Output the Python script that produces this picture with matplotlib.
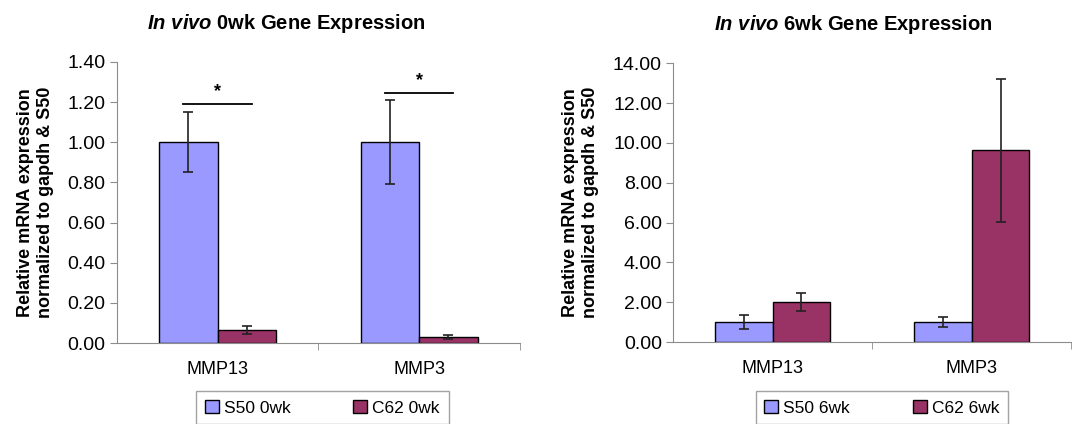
import numpy as np
import matplotlib
matplotlib.use("Agg")
from matplotlib import pyplot as plt

plt.rcParams["font.family"] = ["Liberation Sans", "DejaVu Sans"]
plt.rcParams["mathtext.fontset"] = "custom"
plt.rcParams["mathtext.it"] = "Liberation Sans:italic:bold"
plt.rcParams["mathtext.rm"] = "Liberation Sans:bold"

genes = ["MMP13", "MMP3"]

# 0wk panel
s50_0wk = [1.00, 1.00]
s50_0wk_err = [0.15, 0.21]
c62_0wk = [0.065, 0.03]
c62_0wk_err = [0.022, 0.01]
sig_0wk_y = [1.19, 1.245]

# 6wk panel
s50_6wk = [1.00, 1.00]
s50_6wk_err = [0.35, 0.25]
c62_6wk = [2.03, 9.62]
c62_6wk_err = [0.46, 3.57]

y_ticks_0wk = [0.0, 0.2, 0.4, 0.6, 0.8, 1.0, 1.2, 1.4]
y_ticks_6wk = [0, 2, 4, 6, 8, 10, 12, 14]

blue = "#9999FF"
plum = "#993366"
grey = "#8c8c8c"
ylabel = "Relative mRNA expression\nnormalized to gapdh & S50"


def draw_panel(ax, s50, s50_err, c62, c62_err, yticks, week, title_x, sig_y=None):
    x = np.arange(len(genes))
    w = 0.29
    ax.bar(x - w / 2, s50, w, color=blue, edgecolor="black", linewidth=1,
           label=f"S50 {week}", zorder=2)
    ax.bar(x + w / 2, c62, w, color=plum, edgecolor="black", linewidth=1,
           label=f"C62 {week}", zorder=2)
    ax.errorbar(x - w / 2, s50, yerr=s50_err, fmt="none", ecolor="#222222",
                elinewidth=1.2, capsize=3.5, capthick=1.2, zorder=3)
    ax.errorbar(x + w / 2, c62, yerr=c62_err, fmt="none", ecolor="#222222",
                elinewidth=1.2, capsize=3.5, capthick=1.2, zorder=3)

    # significance bars
    if sig_y is not None:
        span = yticks[-1] - yticks[0]
        for xi, yi in zip(x, sig_y):
            ax.plot([xi - 0.17, xi + 0.17], [yi, yi], color="black", lw=1.3)
            ax.text(xi, yi + 0.015 * span, "*", ha="center", va="bottom",
                    fontsize=13, fontweight="bold")

    ax.set_xlim(-0.5, len(genes) - 0.5)
    ax.set_ylim(yticks[0], yticks[-1])
    ax.set_yticks(yticks)
    ax.set_yticklabels([f"{t:.2f}" for t in yticks], fontsize=14)
    ax.set_xticks(x)
    ax.set_xticklabels(genes, fontsize=13)
    ax.tick_params(axis="x", length=0, pad=13)
    ax.set_xticks(np.arange(0.5, len(genes)), minor=True)
    ax.tick_params(axis="x", which="minor", length=5, color=grey, direction="out")
    ax.tick_params(axis="y", length=5, color=grey, direction="out", pad=3)
    for side in ["top", "right"]:
        ax.spines[side].set_visible(False)
    for side in ["left", "bottom"]:
        ax.spines[side].set_color(grey)
    ax.set_ylabel(ylabel, fontsize=13, fontweight="bold", labelpad=10)
    ax.set_title(rf"$\it{{In\ vivo}}$ {week} Gene Expression",
                 fontsize=14.5, fontweight="bold", pad=24, x=title_x)


fig = plt.figure(figsize=(10.82, 4.24), dpi=100)
ax1 = fig.add_axes([0.108, 0.191, 0.3725, 0.663])
ax2 = fig.add_axes([0.622, 0.193, 0.368, 0.658])

draw_panel(ax1, s50_0wk, s50_0wk_err, c62_0wk, c62_0wk_err, y_ticks_0wk, "0wk",
           0.42, sig_0wk_y)
draw_panel(ax2, s50_6wk, s50_6wk_err, c62_6wk, c62_6wk_err, y_ticks_6wk, "6wk",
           0.452)

for ax, cx in [(ax1, 0.298), (ax2, 0.815)]:
    leg = ax.legend(loc="upper center", bbox_to_anchor=(cx, 0.077),
                    bbox_transform=fig.transFigure, ncol=2, fontsize=12.5,
                    frameon=True, fancybox=False, edgecolor=grey,
                    handlelength=0.8, handleheight=0.8, columnspacing=3.6,
                    borderpad=0.5, handletextpad=0.3, borderaxespad=0)
    leg.get_frame().set_linewidth(1)

fig.savefig("out.png", dpi=100)
